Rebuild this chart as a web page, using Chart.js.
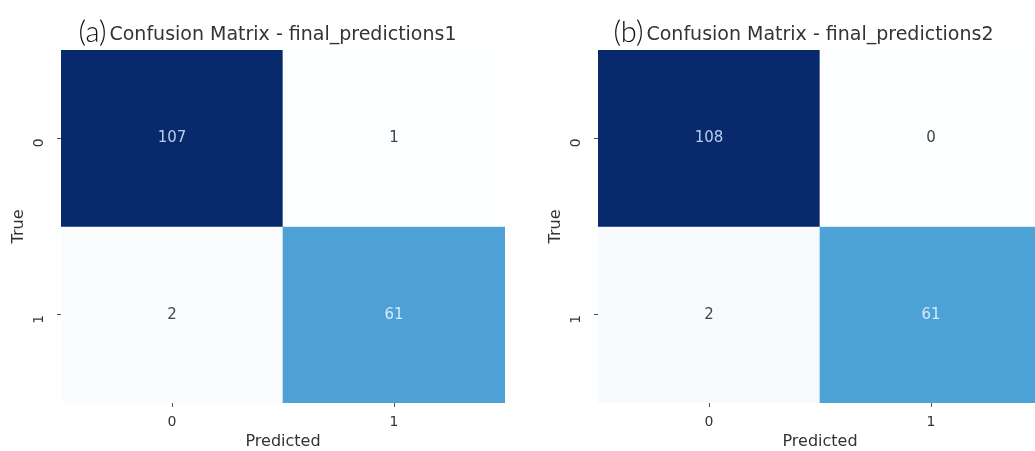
<!DOCTYPE html>
<html>
<head>
<meta charset="utf-8">
<script src="https://cdn.jsdelivr.net/npm/chart.js@4/dist/chart.umd.min.js"></script>
<style>
  html, body { margin: 0; padding: 0; background: #fff; overflow: hidden; }
  body { width: 1035px; height: 451px; position: relative; }
  .panel { position: absolute; top: 0; width: 520px; height: 451px; }
  .panel canvas { position: absolute; left: 0; top: 0; }
  .title { position: absolute; left: 61px; width: 444px; top: 22px; height: 22px; line-height: 22px;
           text-align: center; font: 19px "DejaVu Sans", sans-serif; color: #333; white-space: nowrap; }
  .txt { position: relative; display: inline-block; }
  .tag { position: absolute; right: 100%; margin-right: 3px; top: -9px; line-height: 26px;
         font: 300 29px Lato, "DejaVu Sans", sans-serif; color: #111; }
</style>
</head>
<body>
<div class="panel" id="p1" style="left:0px"><canvas id="cm1" width="520" height="451"></canvas></div>
<div class="panel" id="p2" style="left:537px"><canvas id="cm2" width="520" height="451"></canvas></div>
<script>
const predictedLabels = ['0', '1'];
const trueLabels = ['0', '1'];
const matrix1 = [[107, 1], [2, 61]];
const matrix2 = [[108, 0], [2, 61]];
const panelTags = ['(a)', '(b)'];
const panelTitles = ['Confusion Matrix - final_predictions1', 'Confusion Matrix - final_predictions2'];

// simple blue colormap, light -> dark
const stops = [[0, [253, 254, 255]], [0.56, [78, 163, 216]], [1, [8, 41, 107]]];
function cmap(t) {
  t = Math.max(0, Math.min(1, t));
  for (let i = 1; i < stops.length; i++) {
    if (t <= stops[i][0]) {
      const a = stops[i - 1], b = stops[i];
      const f = (t - a[0]) / (b[0] - a[0]);
      const c = a[1].map((v, k) => Math.round(v + (b[1][k] - v) * f));
      return `rgb(${c[0]},${c[1]},${c[2]})`;
    }
  }
}

const cellLabels = {
  id: 'cellLabels',
  afterDatasetsDraw(chart) {
    const ctx = chart.ctx;
    ctx.save();
    ctx.font = '15px "DejaVu Sans", sans-serif';
    ctx.textAlign = 'center';
    ctx.textBaseline = 'middle';
    chart.data.datasets.forEach((ds, i) => {
      chart.getDatasetMeta(i).data.forEach((el, j) => {
        const t = ds.norm[j];
        ctx.fillStyle = t > 0.8 ? '#b9cdec' : (t > 0.4 ? '#d6e9f7' : '#444');
        ctx.fillText(ds.counts[j], el.x, (el.y + el.base) / 2);
      });
    });
    ctx.restore();
  }
};

function makeChart(id, matrix, idx) {
  const flat = matrix.flat();
  const lo = Math.min(...flat), hi = Math.max(...flat);
  const datasets = matrix.map((row, r) => ({
    data: row.map(() => [r, r + 1]),
    counts: row,
    norm: row.map(v => (v - lo) / (hi - lo)),
    backgroundColor: row.map(v => cmap((v - lo) / (hi - lo))),
    borderWidth: 0,
    barPercentage: 1,
    categoryPercentage: 1
  }));

  const panel = document.getElementById(id).parentNode;
  const title = document.createElement('div');
  title.className = 'title';
  title.innerHTML = `<span class="txt"><span class="tag">${panelTags[idx]}</span>${panelTitles[idx]}</span>`;
  panel.appendChild(title);

  return new Chart(document.getElementById(id), {
    type: 'bar',
    data: { labels: predictedLabels, datasets: datasets },
    plugins: [cellLabels],
    options: {
      responsive: false,
      animation: false,
      layout: { padding: { top: 50, right: 15, bottom: 0, left: 0 } },
      plugins: { legend: { display: false }, tooltip: { enabled: false } },
      datasets: { bar: { grouped: false } },
      scales: {
        x: {
          type: 'category',
          grid: { drawOnChartArea: false, drawTicks: true, tickLength: 4, tickColor: '#555', offset: false },
          border: { display: false },
          ticks: { color: '#333', font: { family: 'DejaVu Sans', size: 14 }, padding: 7 },
          title: { display: true, text: 'Predicted', color: '#333', font: { family: 'DejaVu Sans', size: 16 }, padding: { top: 0, bottom: 0 } },
          afterFit: s => { s.height = 48; }
        },
        y: {
          type: 'linear',
          min: 0,
          max: 2,
          reverse: true,
          afterBuildTicks: s => { s.ticks = trueLabels.map((l, i) => ({ value: i + 0.5 })); },
          grid: { drawOnChartArea: false, drawTicks: true, tickLength: 4, tickColor: '#555' },
          border: { display: false },
          ticks: {
            color: '#333', font: { family: 'DejaVu Sans', size: 14 }, padding: 18,
            minRotation: 90, maxRotation: 90,
            callback: v => trueLabels[Math.floor(v)]
          },
          title: { display: true, text: 'True', color: '#333', font: { family: 'DejaVu Sans', size: 16 }, padding: { top: 9, bottom: 0 } },
          afterFit: s => { s.width = 61; }
        }
      }
    }
  });
}

makeChart('cm1', matrix1, 0);
makeChart('cm2', matrix2, 1);
</script>
</body>
</html>
